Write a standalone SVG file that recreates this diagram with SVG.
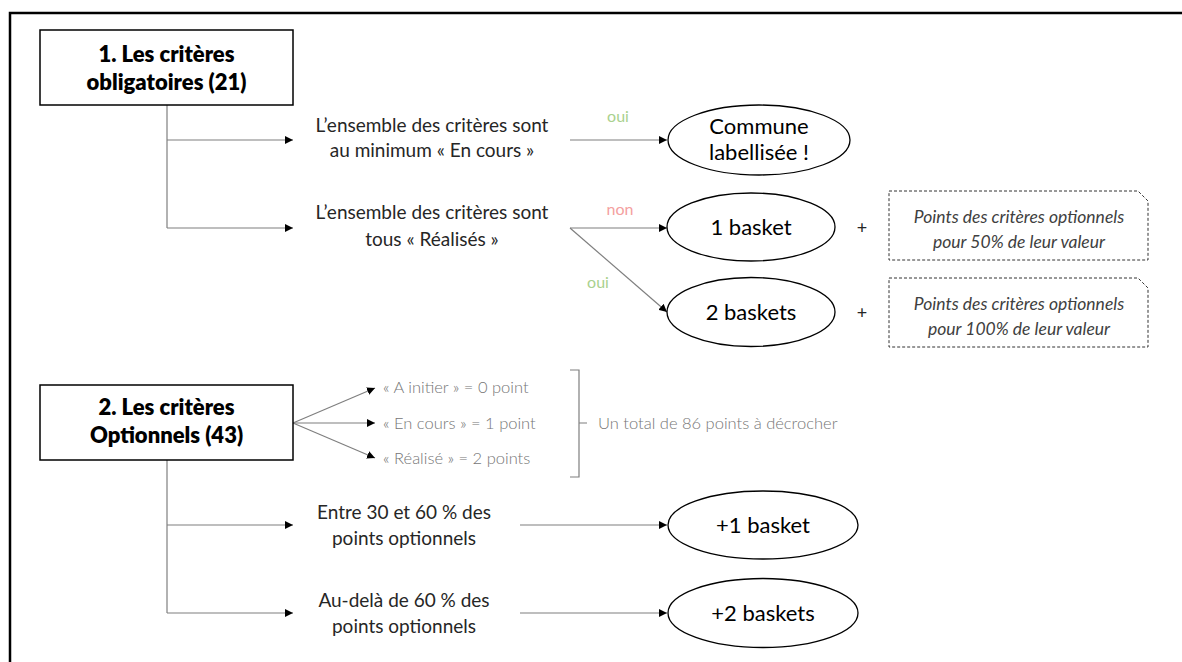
<svg xmlns="http://www.w3.org/2000/svg" width="1182" height="662" viewBox="0 0 1182 662">
<defs>
<marker id="ah" viewBox="0 0 10 10" refX="10" refY="5" markerWidth="8" markerHeight="8" markerUnits="userSpaceOnUse" orient="auto">
<path d="M0,0 L10,5 L0,10 Z" fill="#000"/>
</marker>
<style>
.title{font-family:Lato,"Liberation Sans",sans-serif;font-weight:800;font-size:22px;fill:#000;text-anchor:middle}
.lbl{font-family:Lato,"Liberation Sans",sans-serif;font-size:19px;fill:#262626;text-anchor:middle}
.gray{font-family:Lato,"Liberation Sans",sans-serif;font-weight:300;font-size:16.5px;fill:#767676}
.ell{font-family:Lato,"Liberation Sans",sans-serif;font-size:22px;fill:#000;text-anchor:middle}
.note{font-family:Lato,"Liberation Sans",sans-serif;font-style:italic;font-size:17.5px;fill:#404040;text-anchor:middle}
.oui{font-family:Lato,"Liberation Sans",sans-serif;font-size:16px;fill:#a9d18e;text-anchor:middle}
.non{font-family:Lato,"Liberation Sans",sans-serif;font-size:16px;fill:#f4a0a0;text-anchor:middle}
.plus{font-family:Lato,"Liberation Sans",sans-serif;font-size:18px;fill:#262626;text-anchor:middle}
.box{fill:#fff;stroke:#000;stroke-width:1.5}
.ov{fill:#fff;stroke:#000;stroke-width:1.3}
.dash{fill:#fff;stroke:#333;stroke-width:1;stroke-dasharray:3 2}
.con{fill:none;stroke:#7f7f7f;stroke-width:1.2}
.arr{fill:none;stroke:#7f7f7f;stroke-width:1.2;marker-end:url(#ah)}
</style>
</defs>
<rect x="0" y="0" width="1182" height="662" fill="#fff"/>
<rect x="10" y="13" width="1190" height="680" fill="none" stroke="#000" stroke-width="2.5"/>

<g id="connectors">
<path class="con" d="M167,105 V228"/>
<path class="arr" d="M167,140 H293"/>
<path class="arr" d="M167,228 H293"/>
<path class="arr" d="M570,140 H667"/>
<path class="arr" d="M570,228 H667"/>
<path class="arr" d="M570,228 L667,312"/>
<path class="arr" d="M293,423 L375,388"/>
<path class="arr" d="M293,423 H375"/>
<path class="arr" d="M293,423 L375,458"/>
<path class="con" d="M570,370 H579 V477 H570 M579,423 H587"/>
<path class="con" d="M167,460 V613"/>
<path class="arr" d="M167,525 H293"/>
<path class="arr" d="M167,613 H293"/>
<path class="arr" d="M520,525 H667"/>
<path class="arr" d="M520,613 H667"/>
</g>

<g id="box1">
<rect class="box" x="40" y="30" width="253" height="75"/>
<text class="title" x="166.5" y="62">1. Les critères</text>
<text class="title" x="166.5" y="90">obligatoires (21)</text>
</g>

<g id="label1">
<text class="lbl" x="432" y="132">L’ensemble des critères sont</text>
<text class="lbl" x="432" y="157">au minimum « En cours »</text>
</g>
<g id="label2">
<text class="lbl" x="432" y="219">L’ensemble des critères sont</text>
<text class="lbl" x="432" y="246">tous « Réalisés »</text>
</g>
<g id="edge-labels">
<text class="oui" x="618" y="122">oui</text>
<text class="non" x="620" y="215">non</text>
<text class="oui" x="598" y="288">oui</text>
</g>

<g id="commune">
<ellipse class="ov" cx="759" cy="140" rx="91" ry="35"/>
<text class="ell" x="759" y="134">Commune</text>
<text class="ell" x="759" y="160">labellisée !</text>
</g>
<g id="basket1">
<ellipse class="ov" cx="751" cy="227" rx="84" ry="34"/>
<text class="ell" x="751" y="235">1 basket</text>
</g>
<g id="basket2">
<ellipse class="ov" cx="751" cy="312" rx="84" ry="34.5"/>
<text class="ell" x="751" y="320">2 baskets</text>
</g>
<g id="plus">
<text class="plus" x="862" y="234">+</text>
<text class="plus" x="862" y="319">+</text>
</g>
<g id="note1">
<path class="dash" d="M889,191 H1138 L1148,201 V260 H889 Z"/>
<text class="note" x="1019" y="223">Points des critères optionnels</text>
<text class="note" x="1019" y="248">pour 50% de leur valeur</text>
</g>
<g id="note2">
<path class="dash" d="M889,278 H1138 L1148,288 V347 H889 Z"/>
<text class="note" x="1019" y="310">Points des critères optionnels</text>
<text class="note" x="1019" y="335">pour 100% de leur valeur</text>
</g>

<g id="box2">
<rect class="box" x="40" y="385" width="253" height="75"/>
<text class="title" x="166.5" y="415">2. Les critères</text>
<text class="title" x="166.5" y="443">Optionnels (43)</text>
</g>
<g id="points">
<text class="gray" x="383" y="393">« A initier » = 0 point</text>
<text class="gray" x="383" y="429">« En cours » = 1 point</text>
<text class="gray" x="383" y="464">« Réalisé » = 2 points</text>
<text class="gray" x="598" y="429">Un total de 86 points à décrocher</text>
</g>
<g id="label3">
<text class="lbl" x="404" y="519">Entre 30 et 60 % des</text>
<text class="lbl" x="404" y="545">points optionnels</text>
</g>
<g id="label4">
<text class="lbl" x="404" y="607">Au-delà de 60 % des</text>
<text class="lbl" x="404" y="633">points optionnels</text>
</g>
<g id="plus1">
<ellipse class="ov" cx="763" cy="525" rx="95" ry="34"/>
<text class="ell" x="763" y="533">+1 basket</text>
</g>
<g id="plus2">
<ellipse class="ov" cx="763" cy="613" rx="95" ry="34.5"/>
<text class="ell" x="763" y="621">+2 baskets</text>
</g>
</svg>
